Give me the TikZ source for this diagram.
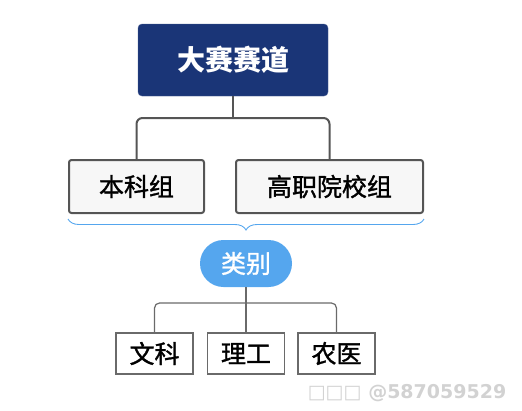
\documentclass[tikz,border=0pt]{standalone}
\usepackage{fontspec}
\newfontfamily\cjk{Noto Sans CJK SC}
\newfontfamily\cjkmid[FakeBold=1.3]{Noto Sans CJK SC}
\newfontfamily\wmfont{DejaVu Sans}
\usetikzlibrary{decorations.pathreplacing}
\definecolor{navy}{HTML}{1A3577}
\definecolor{skyblue}{HTML}{55A6EE}
\definecolor{darkline}{HTML}{555555}
\definecolor{softline}{HTML}{6A6A6A}
\begin{document}
\begin{tikzpicture}[x=1pt,y=-1pt]
  \tikzstyle{every node}+=[inner sep=0pt]
  \tikzstyle{trackbox}=[draw=navy!80, fill=navy, rounded corners=4pt, minimum width=190pt, minimum height=72pt, text=white, font=\cjk\bfseries\fontsize{28}{30}\selectfont]
  \tikzstyle{groupbox}=[draw=darkline, line width=2pt, fill=gray!6, rounded corners=2.5pt, minimum height=53pt, font=\cjkmid\fontsize{25}{27}\selectfont]
  \tikzstyle{pillbox}=[fill=skyblue, rounded corners=23.5pt, minimum width=92pt, minimum height=47pt, text=white, font=\cjkmid\fontsize{25}{27}\selectfont]
  \tikzstyle{fieldbox}=[draw=softline, line width=1.3pt, fill=white, minimum width=77pt, minimum height=41pt, font=\cjkmid\fontsize{25}{27}\selectfont]
  \tikzstyle{link}=[draw=darkline, line width=2pt]
  \tikzstyle{thinlink}=[draw=softline, line width=1.2pt]
  \useasboundingbox (0,0) rectangle (522,410);
  % top level
  \node [trackbox] (track) at (233,60) {大赛赛道};
  \coordinate (fork) at (233,118);
  \node [groupbox, minimum width=135pt] (ben) at (136.5,186.5) {本科组};
  \node [groupbox, minimum width=187pt] (gao) at (329.5,186.5) {高职院校组};
  \draw [link] (track.south) -- (fork);
  \draw [link, rounded corners=6pt] (fork) -| (ben.north);
  \draw [link, rounded corners=6pt] (fork) -| (gao.north);
  % brace and category
  \draw [skyblue, line width=0.9pt, decorate, decoration={brace, mirror, amplitude=11pt}]
    ([yshift=-5pt]ben.south west) -- ([yshift=-5pt]gao.south east);
  \node [pillbox] (kind) at (246,263.5) {类别};
  \coordinate (fork2) at (246,303);
  \node [fieldbox] (wen) at (154.5,353.5) {文科};
  \node [fieldbox] (li) at (246,353.5) {理工};
  \node [fieldbox] (nong) at (336.5,353.5) {农医};
  \draw [thinlink] (kind.south) -- (li.north);
  \draw [thinlink, rounded corners=5pt] (fork2) -| (wen.north);
  \draw [thinlink, rounded corners=5pt] (fork2) -| (nong.north);
  % watermark
  \node [text=gray!35, font=\wmfont\bfseries\fontsize{19}{21}\selectfont] (mark) at (407,393) {□□□ @587059529};
\end{tikzpicture}
\end{document}
